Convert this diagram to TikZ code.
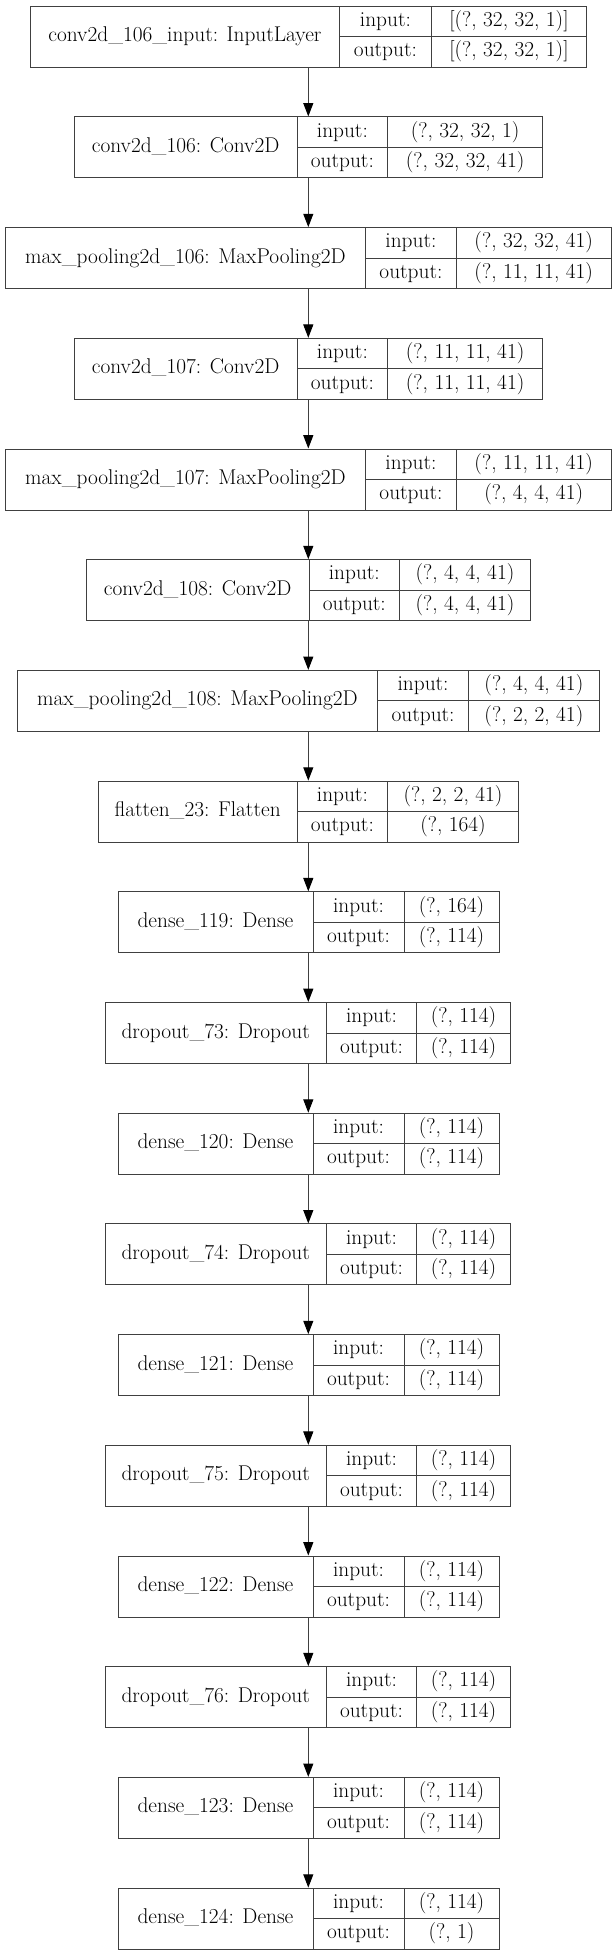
\documentclass[tikz,border=0pt]{standalone}
\usetikzlibrary{arrows.meta}
\definecolor{linegray}{RGB}{64,64,64}
\tikzset{
  cell/.style={draw=linegray, line width=0.75pt, inner sep=0pt, anchor=north west,
    text height=11pt, text depth=3.5pt, font=\fontsize{16}{19}\selectfont},
  flow/.style={draw=linegray, line width=0.75pt, -{Triangle[length=10pt,width=7.5pt,color=black]}}
}
% one layer box: name, top, left, split 1, split 2, right, label, input, output
\newcommand{\layer}[9]{%
  \node[cell, minimum width={(#6-#3)*0.75pt}, minimum height=45.75pt] (#1) at (#3,#2) {};
  \node[cell, minimum width={(#4-#3)*0.75pt}, minimum height=45.75pt] (#1n) at (#3,#2) {#7};
  \node[cell, minimum width={(#5-#4)*0.75pt}, minimum height=22.875pt] (#1i) at (#4,#2) {input:};
  \node[cell, minimum width={(#5-#4)*0.75pt}, minimum height=22.875pt] (#1o) at (#4,{#2+30.5}) {output:};
  \node[cell, minimum width={(#6-#5)*0.75pt}, minimum height=22.875pt] (#1a) at (#5,#2) {#8};
  \node[cell, minimum width={(#6-#5)*0.75pt}, minimum height=22.875pt] (#1b) at (#5,{#2+30.5}) {#9};
}
\begin{document}
\begin{tikzpicture}[x=0.75pt,y=-0.75pt]
  \path[use as bounding box, fill=white] (0,0) rectangle (616,1955);
  \coordinate (axis) at (308.3,0);
  \layer{A}{5.7}{29.5}{339.4}{430.5}{586.4}{conv2d\_106\_input: InputLayer}{[(?, 32, 32, 1)]}{[(?, 32, 32, 1)]}
  \layer{B}{116.4}{73.8}{296.5}{387.3}{542}{conv2d\_106: Conv2D}{(?, 32, 32, 1)}{(?, 32, 32, 41)}
  \layer{C}{227.1}{4.7}{365.3}{455.6}{610.8}{max\_pooling2d\_106: MaxPooling2D}{(?, 32, 32, 41)}{(?, 11, 11, 41)}
  \layer{D}{337.8}{73.8}{296.5}{387.3}{542}{conv2d\_107: Conv2D}{(?, 11, 11, 41)}{(?, 11, 11, 41)}
  \layer{E}{448.5}{4.7}{365.3}{455.6}{610.8}{max\_pooling2d\_107: MaxPooling2D}{(?, 11, 11, 41)}{(?, 4, 4, 41)}
  \layer{F}{559.2}{85.6}{308.7}{399}{529.9}{conv2d\_108: Conv2D}{(?, 4, 4, 41)}{(?, 4, 4, 41)}
  \layer{G}{669.9}{16.9}{377}{468.2}{598.6}{max\_pooling2d\_108: MaxPooling2D}{(?, 4, 4, 41)}{(?, 2, 2, 41)}
  \layer{H}{780.6}{97.8}{296.5}{387.3}{517.7}{flatten\_23: Flatten}{(?, 2, 2, 41)}{(?, 164)}
  \layer{I}{891.3}{117.5}{312.5}{403.5}{498.5}{dense\_119: Dense}{(?, 164)}{(?, 114)}
  \layer{J}{1002}{104.5}{326}{416}{510}{dropout\_73: Dropout}{(?, 114)}{(?, 114)}
  \layer{K}{1112.7}{117.5}{312.5}{403.5}{498.5}{dense\_120: Dense}{(?, 114)}{(?, 114)}
  \layer{L}{1223.4}{104.5}{326}{416}{510}{dropout\_74: Dropout}{(?, 114)}{(?, 114)}
  \layer{M}{1334.1}{117.5}{312.5}{403.5}{498.5}{dense\_121: Dense}{(?, 114)}{(?, 114)}
  \layer{N}{1444.8}{104.5}{326}{416}{510}{dropout\_75: Dropout}{(?, 114)}{(?, 114)}
  \layer{O}{1555.5}{117.5}{312.5}{403.5}{498.5}{dense\_122: Dense}{(?, 114)}{(?, 114)}
  \layer{P}{1666.2}{104.5}{326}{416}{510}{dropout\_76: Dropout}{(?, 114)}{(?, 114)}
  \layer{Q}{1776.9}{117.5}{312.5}{403.5}{498.5}{dense\_123: Dense}{(?, 114)}{(?, 114)}
  \layer{R}{1887.6}{117.5}{312.5}{403.5}{498.5}{dense\_124: Dense}{(?, 114)}{(?, 1)}
  \foreach \a/\b in {A/B,B/C,C/D,D/E,E/F,F/G,G/H,H/I,I/J,J/K,K/L,L/M,M/N,N/O,O/P,P/Q,Q/R}
    \draw[flow] (\a.south -| axis) -- (\b.north -| axis);
\end{tikzpicture}
\end{document}
